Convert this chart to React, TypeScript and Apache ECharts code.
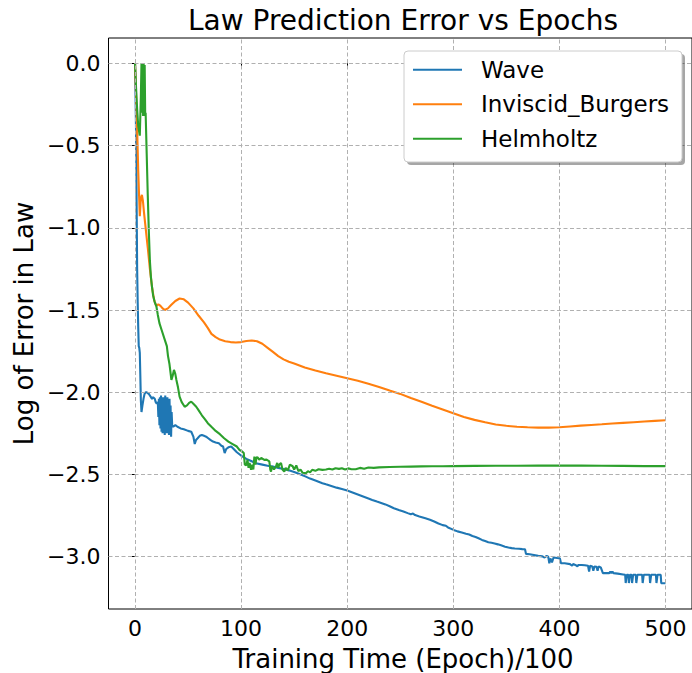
import React, { useEffect, useRef } from "react";
import * as echarts from "echarts";

const seriesNames = ["Wave", "Inviscid_Burgers", "Helmholtz"];
const seriesColors = ["#1f77b4", "#ff7f0e", "#2ca02c"];
const xTicks = [0, 100, 200, 300, 400, 500];
const yTicks = [0, -0.5, -1.0, -1.5, -2.0, -2.5, -3.0];

const waveData = [
  [0, 0], [0.5, -0.2], [1, -0.43], [1.5, -0.85], [2, -1.25], [2.5, -1.45], [3, -1.6], [3.5, -1.72], [4, -1.73],
  [4.5, -1.76], [5, -1.9], [5.5, -2.05], [6.1, -2.12], [7, -2.08], [8, -2.04], [9, -2.01], [10, -2.0], [11, -2.0],
  [12, -2.005], [13, -2.01], [14, -2.02], [15, -2.03], [16, -2.04], [17, -2.03], [18.6, -2.04], [19.5, -2.06],
  [20.5, -2.07], [21.5, -2.06],
  [22, -2.15], [22.5, -2.04], [23, -2.2], [23.5, -2.03], [24, -2.22], [24.5, -2.02], [25, -2.24], [25.5, -2.04],
  [26, -2.25], [26.5, -2.03], [27, -2.21], [27.5, -2.05], [28, -2.26], [28.5, -2.02], [29, -2.23], [29.5, -2.04],
  [30, -2.25], [30.5, -2.03], [31, -2.22], [31.5, -2.05], [32, -2.26], [32.5, -2.04], [33, -2.2], [33.5, -2.08],
  [34, -2.27], [34.5, -2.12], [35, -2.2],
  [36, -2.21], [38, -2.2], [40, -2.21], [43, -2.22], [46, -2.225], [50, -2.235], [53, -2.24], [55, -2.27],
  [56.3, -2.315], [57.5, -2.29], [59, -2.28], [61, -2.265], [63, -2.26], [65, -2.265], [67, -2.27], [69, -2.28],
  [71, -2.29], [73.5, -2.3], [76, -2.305], [79, -2.31], [81.4, -2.325], [83, -2.33], [84.5, -2.37], [86, -2.345],
  [88, -2.335], [90.7, -2.33], [93, -2.345], [96, -2.365], [99, -2.38], [101, -2.39], [105, -2.405], [110, -2.42],
  [114, -2.432], [120, -2.44], [125, -2.447], [130, -2.452], [135, -2.46], [140, -2.467], [145, -2.475],
  [150, -2.485], [155, -2.497], [161, -2.513], [165, -2.525], [170, -2.537], [176.6, -2.553], [180, -2.56],
  [185, -2.57], [190, -2.58], [195, -2.589], [200, -2.598], [205, -2.61], [210, -2.622], [215, -2.634],
  [220, -2.646], [223.6, -2.655], [228, -2.665], [232, -2.673], [236, -2.682], [240, -2.693], [244, -2.705],
  [248.6, -2.716], [253, -2.725], [257, -2.735], [260, -2.742], [262, -2.738], [264, -2.747], [268, -2.755],
  [273.7, -2.766], [278, -2.775], [282, -2.786], [286, -2.798], [290, -2.808], [293, -2.812], [295, -2.822],
  [300.3, -2.837], [304, -2.846], [308, -2.853], [312, -2.86], [315, -2.865], [318, -2.874], [321, -2.88],
  [323.8, -2.888], [327, -2.898], [330, -2.905], [333, -2.912], [336, -2.915], [339, -2.92], [342, -2.925],
  [345, -2.931], [348.8, -2.939], [352, -2.944], [355, -2.948], [358, -2.95], [362, -2.952], [365, -2.954],
  [367.6, -2.955], [368.5, -2.983], [372, -2.985], [376, -2.99], [380, -2.995], [384, -2.998], [386, -3.005],
  [388, -2.995], [389.5, -3.0], [390.5, -3.04], [391.5, -3.01], [393, -3.035], [394.5, -3.005], [398, -3.008],
  [400.5, -3.01], [401.5, -3.04], [405, -3.04], [410, -3.045], [412, -3.055], [413, -3.045], [415, -3.05],
  [417, -3.058], [418, -3.05], [421, -3.05], [424, -3.052], [427, -3.055], [428, -3.09], [429, -3.055],
  [431, -3.06], [432, -3.085], [433, -3.06], [435, -3.062], [436, -3.085], [437, -3.06], [439, -3.065],
  [441, -3.1], [443, -3.1], [447, -3.1], [448, -3.09], [449, -3.1], [450, -3.09], [451, -3.1], [455, -3.103],
  [460, -3.108], [462, -3.11], [462.5, -3.16], [463.5, -3.11], [465, -3.11], [465.5, -3.16], [466.5, -3.11],
  [468, -3.11], [468.5, -3.16], [469.5, -3.11], [472, -3.11], [472.5, -3.16], [473.5, -3.11], [478, -3.11],
  [478.5, -3.16], [479.5, -3.11], [485, -3.11], [485.5, -3.16], [486.5, -3.11], [491, -3.11], [491.5, -3.16],
  [492.5, -3.11], [495.5, -3.11], [496, -3.161], [500, -3.161],
];

const burgersData = [
  [0, 0], [1, -0.2], [2, -0.4], [3, -0.65], [4.5, -0.93], [5.5, -0.82], [6.5, -0.8], [7.5, -0.84], [8.5, -0.91],
  [10, -1.0], [12, -1.12], [14, -1.25], [16, -1.36], [18, -1.44], [20, -1.475], [22, -1.465], [24, -1.475],
  [26, -1.49], [28, -1.5], [31, -1.49], [34, -1.47], [38, -1.445], [42, -1.43], [46, -1.435], [50, -1.455],
  [55, -1.49], [60, -1.535], [65, -1.575], [68.7, -1.61], [72, -1.645], [76, -1.665], [80, -1.68], [85, -1.69],
  [90, -1.695], [95, -1.698], [100, -1.695], [105, -1.688], [110, -1.685], [115, -1.69], [120, -1.705],
  [125, -1.73], [130, -1.755], [135, -1.78], [140, -1.8], [145, -1.815], [150, -1.825], [160, -1.85],
  [170, -1.868], [180, -1.885], [190, -1.9], [200, -1.915], [210, -1.93], [220, -1.948], [230, -1.968],
  [240, -1.99], [250, -2.01], [260, -2.035], [270, -2.058], [280, -2.082], [290, -2.105], [300, -2.128],
  [310, -2.15], [320, -2.168], [330, -2.183], [340, -2.196], [350, -2.204], [360, -2.21], [370, -2.213],
  [380, -2.215], [390, -2.215], [400, -2.213], [410, -2.208], [420, -2.203], [430, -2.199], [440, -2.195],
  [450, -2.19], [460, -2.186], [470, -2.182], [480, -2.178], [490, -2.174], [500, -2.17],
];

const helmholtzData = [
  [0, 0], [1, -0.15], [2, -0.28], [3, -0.38], [4.5, -0.44], [5.5, -0.2], [6.1, 0], [6.6, -0.3], [7.1, -0.02],
  [7.6, -0.32], [8.1, 0], [8.6, -0.3], [9.1, -0.01], [9.6, -0.32], [10, -0.3], [11, -0.55], [12, -0.8],
  [13, -1.02], [14, -1.2], [15, -1.3], [16, -1.36], [17, -1.41], [18.5, -1.45], [20.2, -1.48], [21.5, -1.53],
  [23, -1.58], [25, -1.62], [28, -1.68], [30, -1.72], [31.1, -1.78], [32.5, -1.83], [34.3, -1.925],
  [35.5, -1.9], [36.7, -1.864], [38, -1.89], [39, -1.925], [40.5, -1.97], [42, -2.027], [44, -2.06],
  [46.8, -2.088], [49, -2.08], [51, -2.065], [53, -2.057], [55, -2.07], [57.7, -2.088], [60, -2.11],
  [63, -2.14], [66, -2.165], [68.6, -2.188], [72, -2.21], [76, -2.235], [80, -2.255], [84, -2.28], [88, -2.3],
  [92, -2.315], [96, -2.33], [98.4, -2.351], [101, -2.36], [102.5, -2.37], [103.5, -2.44], [105, -2.445],
  [106, -2.41], [107, -2.46], [108, -2.43], [109.4, -2.472], [110.5, -2.44], [111.5, -2.47], [112.5, -2.391],
  [113.5, -2.44], [114.5, -2.395], [115.7, -2.397], [117, -2.41], [119, -2.4], [121.9, -2.411], [124, -2.41],
  [126.6, -2.42], [127.5, -2.47], [128.2, -2.483], [129, -2.45], [131, -2.47], [132.9, -2.45], [134, -2.43],
  [135, -2.46], [136, -2.44], [137.6, -2.43], [139, -2.47], [140.7, -2.483], [142, -2.46], [144, -2.475],
  [146, -2.44], [148.6, -2.45], [150, -2.47], [152, -2.445], [154, -2.48], [156, -2.47], [158, -2.49],
  [161, -2.493], [163, -2.48], [165, -2.487], [167, -2.472], [170, -2.478], [173, -2.468], [176.6, -2.472],
  [180, -2.47], [183, -2.465], [186, -2.47], [189, -2.462], [192.3, -2.466], [195, -2.462], [198, -2.47],
  [201, -2.463], [204, -2.468], [208, -2.468], [212, -2.46], [216, -2.465], [220, -2.458], [225, -2.46],
  [230, -2.457], [240, -2.455], [250, -2.453], [260, -2.452], [270, -2.451], [280, -2.45], [290, -2.45],
  [300, -2.449], [320, -2.448], [340, -2.447], [360, -2.447], [380, -2.446], [400, -2.445], [420, -2.446],
  [440, -2.447], [460, -2.448], [480, -2.449], [500, -2.449],
];

const allData = [waveData, burgersData, helmholtzData];
const FONT = "DejaVu Sans";

function fmtY(v: number) {
  return v.toFixed(1).replace("-", "\u2212");
}

export default function App() {
  const ref = useRef<HTMLDivElement>(null);
  useEffect(() => {
    if (!ref.current) return;
    const chart = echarts.init(ref.current, undefined, { renderer: "svg" });
    const legendRows = [69.8, 104.3, 138.8];
    const legendChildren: any[] = [
      {
        type: "rect",
        shape: { x: 407, y: 54, width: 278, height: 111, r: 4 },
        style: { fill: "rgba(0,0,0,0.35)" },
        z: 100,
      },
      {
        type: "rect",
        shape: { x: 404, y: 51, width: 278, height: 111, r: 4 },
        style: { fill: "#ffffff", stroke: "#cccccc", lineWidth: 1 },
        z: 101,
      },
    ];
    seriesNames.forEach((name, i) => {
      legendChildren.push({
        type: "line",
        shape: { x1: 413, y1: legendRows[i], x2: 462, y2: legendRows[i] },
        style: { stroke: seriesColors[i], lineWidth: 2.1 },
        z: 102,
      });
      legendChildren.push({
        type: "text",
        x: 481,
        y: legendRows[i],
        style: {
          text: name,
          fontSize: 23,
          fontFamily: FONT,
          fill: "#000",
          align: "left",
          verticalAlign: "middle",
        },
        z: 102,
      });
    });

    const gridLineStyle = { color: "#b0b0b0", type: [4, 2.5], width: 1 };
    const gridSeries = {
      name: "__grid",
      type: "line",
      data: [],
      z: 1,
      silent: true,
      markLine: {
        silent: true,
        symbol: ["none", "none"],
        label: { show: false },
        lineStyle: gridLineStyle,
        emphasis: { disabled: true },
        data: [
          ...xTicks.map((v) => ({ xAxis: v })),
          ...yTicks.map((v) => ({ yAxis: v })),
        ],
      },
    };

    chart.setOption({
      animation: false,
      backgroundColor: "#ffffff",
      grid: {
        left: 108.5,
        top: 38,
        width: 586,
        height: 571,
        show: true,
        borderColor: "#000",
        borderWidth: 1,
        backgroundColor: "transparent",
      },
      xAxis: {
        type: "value",
        min: -25,
        max: 525,
        axisLine: { show: false },
        axisTick: {
          show: true,
          length: 5,
          lineStyle: { color: "#000", width: 1 },
          customValues: xTicks,
        },
        axisLabel: {
          customValues: xTicks,
          fontSize: 22,
          fontFamily: FONT,
          color: "#000",
          margin: 8,
        },
        splitLine: { show: false },
      },
      yAxis: {
        type: "value",
        min: -3.318,
        max: 0.154,
        axisLine: { show: false },
        axisTick: {
          show: true,
          length: 5,
          lineStyle: { color: "#000", width: 1 },
          customValues: yTicks,
        },
        axisLabel: {
          customValues: yTicks,
          fontSize: 22,
          fontFamily: FONT,
          color: "#000",
          margin: 8,
          formatter: (v: number) => fmtY(v),
        },
        splitLine: { show: false },
      },
      series: [
        gridSeries,
        ...seriesNames.map((name, i) => ({
          name,
          type: "line",
          data: allData[i],
          symbol: "none",
          showSymbol: false,
          lineStyle: { color: seriesColors[i], width: 2.1 },
          itemStyle: { color: seriesColors[i] },
          z: 2 + i,
        })),
      ],
      graphic: [
        {
          type: "text",
          x: 403,
          y: 20,
          style: {
            text: "Law Prediction Error vs Epochs",
            fontSize: 28,
            fontFamily: FONT,
            fill: "#000",
            align: "center",
            verticalAlign: "middle",
          },
        },
        {
          type: "text",
          x: 403,
          y: 659,
          style: {
            text: "Training Time (Epoch)/100",
            fontSize: 26,
            fontFamily: FONT,
            fill: "#000",
            align: "center",
            verticalAlign: "middle",
          },
        },
        {
          type: "text",
          x: 24,
          y: 323.5,
          rotation: Math.PI / 2,
          style: {
            text: "Log of Error in Law",
            fontSize: 26,
            fontFamily: FONT,
            fill: "#000",
            align: "center",
            verticalAlign: "middle",
          },
        },
        { type: "group", children: legendChildren },
      ],
    });
    return () => chart.dispose();
  }, []);
  return (
    <div
      ref={ref}
      style={{ position: "absolute", left: 0, top: 0, width: 692, height: 673 }}
    />
  );
}
